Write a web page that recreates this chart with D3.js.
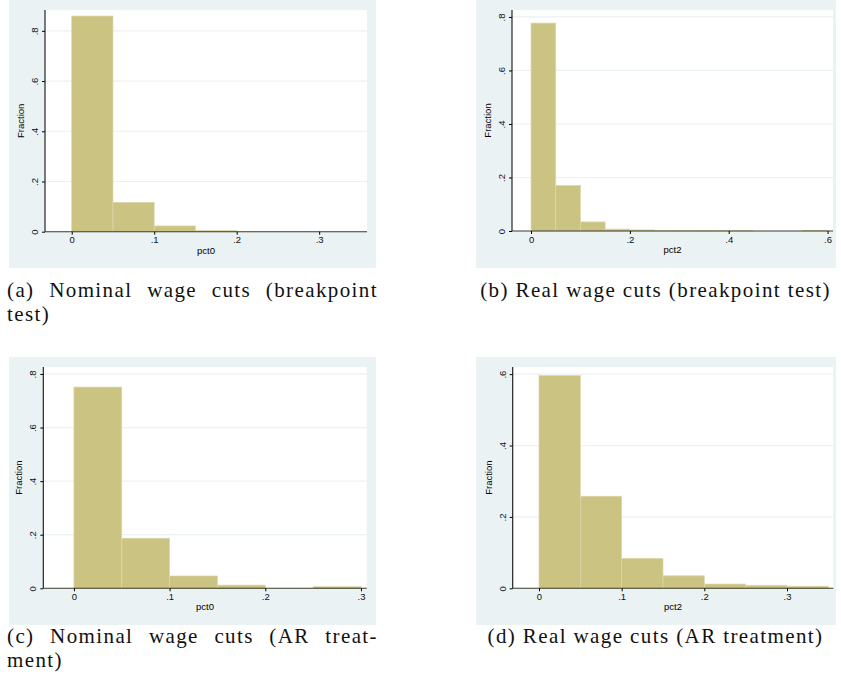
<!DOCTYPE html>
<html>
<head>
<meta charset="utf-8">
<script src="https://cdn.jsdelivr.net/npm/d3@7"></script>
<style>
  body { margin: 0; background: #fff; }
  #wrap { position: relative; width: 841px; height: 687px; }
  svg { position: absolute; left: 0; top: 0; }
  .cap { position: absolute; font-family: "Liberation Serif", serif; font-size: 21px; line-height: 24px;
         letter-spacing: 1.4px; color: #111; white-space: nowrap; }
  .cap .just { text-align: justify; text-align-last: justify; }
</style>
</head>
<body>
<div id="wrap"></div>
<script>
// histogram bins start at 0, each is 0.05 wide
const binWidth = 0.05;

// fractions
const fracNominalBreak = [0.859, 0.117, 0.023, 0.005];
const fracRealBreak = [0.777, 0.170, 0.034, 0.007, 0.004, 0.001, 0.001, 0.001, 0.001, 0, 0, 0.002];
const fracNominalAR = [0.751, 0.187, 0.046, 0.012, 0, 0.006];
const fracRealAR = [0.596, 0.258, 0.084, 0.035, 0.012, 0.0085, 0.0058];

// tick values
const xTicksNominalBreak = [0, 0.1, 0.2, 0.3];
const xTicksRealBreak = [0, 0.2, 0.4, 0.6];
const xTicksNominalAR = [0, 0.1, 0.2, 0.3];
const xTicksRealAR = [0, 0.1, 0.2, 0.3];
const yTicksEight = [0, 0.2, 0.4, 0.6, 0.8];
const yTicksSix = [0, 0.2, 0.4, 0.6];

const xLabels = ["pct0", "pct2", "pct0", "pct2"];
// captions as printed, one entry per line
const captionA = ["(a) Nominal wage cuts (breakpoint", "test)"];
const captionB = ["(b) Real wage cuts (breakpoint test)"];
const captionC = ["(c) Nominal wage cuts (AR treat-", "ment)"];
const captionD = ["(d) Real wage cuts (AR treatment)"];

const bgColor = "#eaf2f3";
const barColor = "#cbc382";

// layout of each panel (pixels)
const panels = [
  { frac: fracNominalBreak, xt: xTicksNominalBreak, yt: yTicksEight, xl: xLabels[0],
    bg: [9, 0, 376, 268], plot: [45, 10, 367, 231.7], xd: [-0.0324, 0.358], ymax: 0.883 },
  { frac: fracRealBreak, xt: xTicksRealBreak, yt: yTicksEight, xl: xLabels[1],
    bg: [476, 0, 836, 268], plot: [512, 10, 833, 231], xd: [-0.0385, 0.611], ymax: 0.826 },
  { frac: fracNominalAR, xt: xTicksNominalAR, yt: yTicksEight, xl: xLabels[2],
    bg: [9, 357, 376, 625], plot: [43.3, 367, 366.7, 588.3], xd: [-0.032, 0.306], ymax: 0.826 },
  { frac: fracRealAR, xt: xTicksRealAR, yt: yTicksSix, xl: xLabels[3],
    bg: [476, 357, 836, 625], plot: [512.7, 367, 833.3, 588.3], xd: [-0.0318, 0.356], ymax: 0.62 }
];

const fmt = v => v === 0 ? "0" : d3.format(".1f")(v).replace(/^0/, "");

const svg = d3.select("#wrap").append("svg")
  .attr("width", 841).attr("height", 687);

panels.forEach(p => {
  const [bx0, by0, bx1, by1] = p.bg;
  const [px0, py0, px1, py1] = p.plot;
  const g = svg.append("g");

  g.append("rect").attr("x", bx0).attr("y", by0)
    .attr("width", bx1 - bx0).attr("height", by1 - by0).attr("fill", bgColor);
  g.append("rect").attr("x", px0).attr("y", py0)
    .attr("width", px1 - px0).attr("height", py1 - py0).attr("fill", "#fff");

  const x = d3.scaleLinear().domain(p.xd).range([px0, px1]);
  const y = d3.scaleLinear().domain([0, p.ymax]).range([py1, py0]);

  // gridlines
  g.selectAll(".grid").data(p.yt.filter(d => d > 0)).join("line")
    .attr("x1", px0).attr("x2", px1)
    .attr("y1", d => y(d)).attr("y2", d => y(d))
    .attr("stroke", bgColor).attr("stroke-width", 1.2);

  // bars
  const bins = p.frac.map((v, i) => ({ x0: i * binWidth, x1: (i + 1) * binWidth, v: v }))
    .filter(d => d.v > 0);
  g.selectAll(".bar").data(bins).join("rect")
    .attr("x", d => x(d.x0)).attr("width", d => x(d.x1) - x(d.x0))
    .attr("y", d => y(d.v)).attr("height", d => y(0) - y(d.v))
    .attr("fill", barColor).attr("stroke", "#ddd7ab").attr("stroke-width", 0.7);

  // axes
  const xAxis = d3.axisBottom(x).tickValues(p.xt).tickFormat(fmt).tickSize(3).tickPadding(2);
  const xg = g.append("g").attr("transform", `translate(0,${py1})`).call(xAxis);
  xg.select(".domain").attr("d", `M${px0},0H${px1}`).attr("stroke", "#3a3a2a").attr("stroke-width", 1.1);
  xg.selectAll("text").attr("font-family", "Liberation Sans, Arial, sans-serif").attr("font-size", 9.5).attr("fill", "#111");

  const yAxis = d3.axisLeft(y).tickValues(p.yt).tickFormat(fmt).tickSize(3).tickPadding(2);
  const yg = g.append("g").attr("transform", `translate(${px0},0)`).call(yAxis);
  yg.select(".domain").attr("d", `M0,${py1}V${py0}`).attr("stroke", "#111").attr("stroke-width", 1.1);
  yg.selectAll("text")
    .attr("font-family", "Liberation Sans, Arial, sans-serif").attr("font-size", 9.5).attr("fill", "#111")
    .attr("x", null).attr("dy", null)
    .attr("text-anchor", "middle")
    .attr("transform", "translate(-7,0) rotate(-90)");

  g.append("text")
    .attr("x", (px0 + px1) / 2).attr("y", py1 + 22)
    .attr("text-anchor", "middle")
    .attr("font-family", "Liberation Sans, Arial, sans-serif").attr("font-size", 9.5)
    .text(p.xl);

  g.append("text")
    .attr("transform", `translate(${px0 - 21},${(py0 + py1) / 2}) rotate(-90)`)
    .attr("text-anchor", "middle")
    .attr("font-family", "Liberation Sans, Arial, sans-serif").attr("font-size", 9.5)
    .text("Fraction");
});

// captions: two-line ones are justified on the first line, one-liners centred
const wrap = d3.select("#wrap");
function caption(lines, left, top, width, justified) {
  const div = wrap.append("div").attr("class", "cap")
    .style("left", left + "px").style("top", top + "px").style("width", width + "px")
    .style("text-align", justified ? "left" : "center");
  lines.forEach((l, i) => {
    div.append("div").attr("class", justified && i === 0 ? "just" : null).text(l);
  });
}
caption(captionA, 7, 278, 371, true);
caption(captionB, 470, 278, 371, false);
caption(captionC, 7, 624, 371, true);
caption(captionD, 470, 624, 371, false);
</script>
</body>
</html>
